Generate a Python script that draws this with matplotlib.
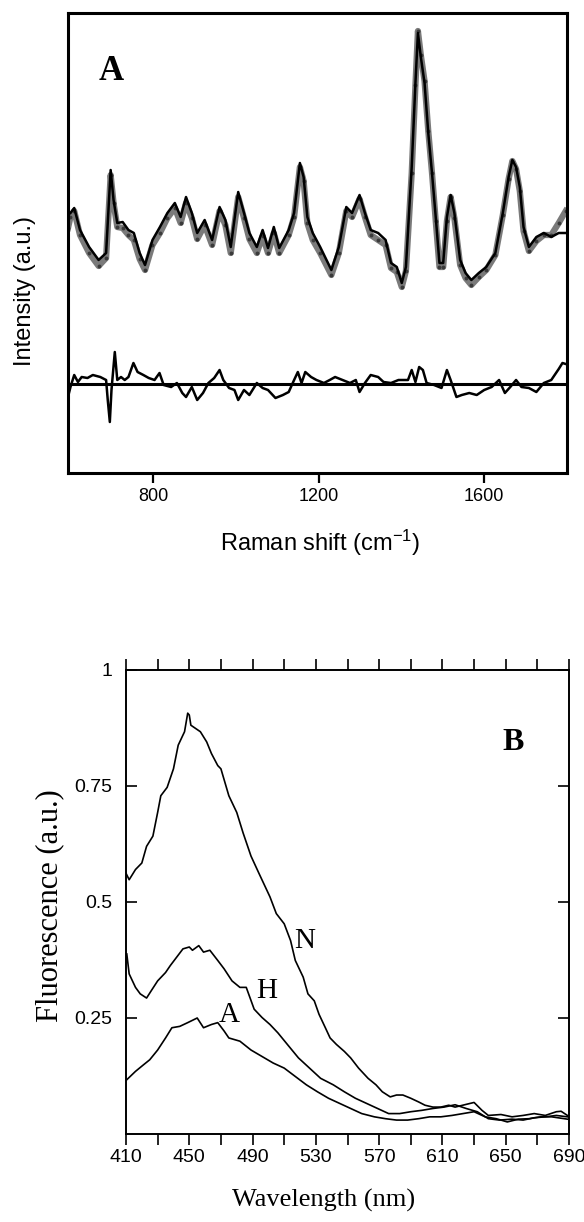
"""
Two-panel figure: Raman spectrum with fit and residual (A),
fluorescence spectra N, H, A (B)
"""

import numpy as np
import matplotlib.pyplot as plt

plt.rcParams['font.family'] = 'Liberation Sans'
plt.rcParams['mathtext.fontset'] = 'custom'
plt.rcParams['mathtext.rm'] = 'Liberation Sans'
plt.rcParams['mathtext.default'] = 'regular'

# ---- Panel A data (Raman shift in cm-1, intensity in a.u.) ----
raman_fit_x = [601, 610, 624, 646, 669, 687, 698, 705, 714, 727, 741, 754, 768, 781, 799,
               817, 835, 853, 867, 880, 894, 907, 925, 943, 961, 975, 988, 1006, 1020, 1033,
               1051, 1065, 1078, 1092, 1105, 1128, 1141, 1155, 1164, 1173, 1186, 1204, 1231,
               1249, 1267, 1281, 1299, 1312, 1326, 1344, 1362, 1375, 1389, 1401, 1411, 1425,
               1434, 1440, 1447, 1456, 1465, 1474, 1483, 1492, 1501, 1510, 1519, 1528, 1542,
               1555, 1569, 1587, 1605, 1627, 1645, 1659, 1668, 1677, 1686, 1695, 1708, 1726,
               1744, 1762, 1780, 1797]
raman_fit_y = [260, 265, 243, 226, 213, 220, 303, 273, 250, 251, 243, 240, 220, 208, 233,
               246, 260, 270, 256, 276, 260, 240, 253, 233, 266, 253, 226, 281, 260, 240,
               226, 243, 225, 246, 225, 243, 260, 310, 296, 256, 240, 226, 203, 226, 266,
               260, 278, 260, 243, 240, 233, 210, 206, 190, 206, 306, 390, 440, 416, 390,
               340, 300, 256, 210, 210, 256, 278, 260, 213, 200, 193, 200, 206, 220, 260,
               296, 313, 306, 286, 246, 226, 236, 240, 236, 240, 240]

raman_meas_x = [595] + raman_fit_x
raman_meas_y = [245, 256, 262, 238, 220, 207, 215, 298, 270, 246, 245, 238, 233, 214, 203,
                228, 240, 255, 265, 250, 270, 255, 234, 248, 228, 262, 248, 220, 276, 255,
                234, 220, 237, 220, 240, 220, 238, 256, 306, 292, 250, 233, 220, 198, 220,
                262, 256, 274, 256, 238, 233, 228, 205, 201, 186, 202, 300, 388, 442, 418,
                392, 342, 300, 252, 206, 206, 252, 276, 255, 208, 195, 188, 196, 203, 218,
                258, 294, 312, 304, 282, 242, 222, 232, 238, 238, 250, 262]

resid_x = [595, 601, 610, 619, 628, 642, 655, 673, 687, 691, 696, 700, 708, 714, 723,
           732, 741, 753, 763, 777, 790, 804, 816, 826, 844, 858, 871, 880, 894, 907,
           921, 934, 948, 961, 970, 984, 997, 1006, 1020, 1033, 1051, 1065, 1078, 1096,
           1114, 1128, 1141, 1150, 1159, 1168, 1182, 1195, 1213, 1227, 1240, 1258, 1276,
           1290, 1299, 1312, 1326, 1344, 1357, 1375, 1393, 1416, 1425, 1434, 1443, 1452,
           1461, 1479, 1497, 1510, 1519, 1533, 1546, 1564, 1582, 1600, 1618, 1636, 1650,
           1663, 1677, 1690, 1708, 1726, 1744, 1762, 1780, 1789, 1797]
resid_y = [76, 86, 98, 91, 96, 95, 98, 96, 93, 73, 51, 83, 121, 93, 96,
           93, 96, 110, 101, 98, 95, 93, 100, 88, 86, 90, 80, 76, 86, 73,
           80, 90, 95, 103, 93, 85, 83, 73, 83, 78, 90, 85, 83, 75,
           78, 81, 93, 101, 90, 101, 96, 93, 90, 93, 96, 93, 90,
           93, 81, 90, 98, 96, 91, 90, 93, 93, 103, 91, 106, 103,
           90, 88, 85, 103, 93, 76, 78, 80, 78, 83, 86, 93, 80,
           86, 93, 86, 85, 81, 90, 93, 104, 110, 109]
resid_zero = 89
raman_ticks = [800, 1200, 1600]

# ---- Panel B data (wavelength in nm, fluorescence in a.u.) ----
n_x = [410, 412, 416, 420, 423, 427, 430, 432, 436, 440, 443, 447, 449, 450, 451, 454,
       457, 461, 464, 468, 470, 475, 480, 484, 489, 494, 501, 505, 510, 514, 517, 522,
       525, 529, 532, 536, 539, 543, 548, 552, 557, 563, 568, 572, 577, 581, 585, 590,
       595, 599, 604, 609, 614, 618, 624, 630, 635, 639, 647, 654, 661, 668, 675, 682,
       685, 689]
n_y = [0.562, 0.548, 0.570, 0.584, 0.620, 0.642, 0.693, 0.729, 0.747, 0.787, 0.838, 0.867,
       0.907, 0.903, 0.881, 0.874, 0.867, 0.845, 0.820, 0.794, 0.787, 0.729, 0.693, 0.649,
       0.599, 0.562, 0.511, 0.475, 0.453, 0.417, 0.374, 0.338, 0.302, 0.287, 0.258, 0.229,
       0.207, 0.193, 0.178, 0.164, 0.142, 0.120, 0.106, 0.091, 0.080, 0.084, 0.084, 0.077,
       0.069, 0.062, 0.058, 0.058, 0.062, 0.058, 0.063, 0.068, 0.051, 0.040, 0.042, 0.037,
       0.040, 0.044, 0.040, 0.048, 0.049, 0.040]

h_x = [410.5, 412, 416, 419, 423, 426, 430, 435, 438, 442, 446, 450, 452, 456, 459, 463,
       468, 472, 477, 482, 486, 491, 496, 501, 506, 512, 519, 526, 533, 541, 548, 555,
       562, 569, 576, 583, 590, 597, 604, 611, 618, 625, 632, 639, 646, 654, 661, 668,
       675, 682, 689]
h_y = [0.388, 0.345, 0.316, 0.302, 0.293, 0.309, 0.330, 0.348, 0.363, 0.381, 0.399, 0.403,
       0.396, 0.406, 0.392, 0.396, 0.374, 0.356, 0.330, 0.316, 0.316, 0.269, 0.251, 0.236,
       0.218, 0.193, 0.164, 0.142, 0.120, 0.106, 0.091, 0.077, 0.066, 0.055, 0.044, 0.044,
       0.048, 0.051, 0.055, 0.058, 0.063, 0.055, 0.048, 0.033, 0.030, 0.032, 0.030, 0.035,
       0.037, 0.040, 0.037]

a_x = [410.5, 416, 421, 425, 430, 435, 439, 444, 449, 455, 459, 464, 468, 472, 475, 482,
       489, 496, 503, 510, 517, 524, 531, 538, 545, 552, 559, 567, 574, 581, 588, 595,
       602, 609, 616, 623, 630, 637, 644, 651, 658, 665, 672, 679, 689]
a_y = [0.117, 0.135, 0.149, 0.160, 0.181, 0.207, 0.229, 0.232, 0.240, 0.250, 0.229, 0.236,
       0.240, 0.222, 0.207, 0.200, 0.181, 0.167, 0.153, 0.142, 0.124, 0.106, 0.091, 0.077,
       0.066, 0.055, 0.044, 0.037, 0.033, 0.030, 0.030, 0.033, 0.037, 0.037, 0.040, 0.044,
       0.048, 0.037, 0.033, 0.026, 0.032, 0.033, 0.037, 0.037, 0.032]

curve_labels = ['N', 'H', 'A']
curve_label_pos = [(523, 0.417), (499, 0.309), (475, 0.257)]
wl_ticks = [410, 450, 490, 530, 570, 610, 650, 690]
wl_minor = list(range(410, 691, 20))
fl_ticks = [0.25, 0.5, 0.75, 1]
fl_ticklabels = ['0.25', '0.5', '0.75', '1']

fig = plt.figure(figsize=(5.84, 12.22), dpi=100)

# ---------------- Panel A ----------------
axA = fig.add_axes([68/584, 749/1222, 499/584, 460/1222])
axA.plot(raman_meas_x, raman_meas_y, '-', color='#7a7a7a', linewidth=4.5,
         marker='o', markersize=2.8, markerfacecolor='#3a3a3a', markeredgecolor='none')
axA.plot(raman_fit_x, raman_fit_y, '-', color='black', linewidth=1.8)
axA.plot(resid_x, resid_y, '-', color='black', linewidth=1.8)
axA.axhline(resid_zero, color='black', linewidth=2.2)
axA.set_xlim(595, 1800)
axA.set_ylim(0, 460)
axA.set_xticks(raman_ticks)
axA.set_yticks([])
axA.tick_params(axis='x', direction='out', length=7, width=1.6, labelsize=13, pad=4)
for sp in axA.spines.values():
    sp.set_linewidth(2.2)
fig.text(111/584, 1 - 72/1222, 'A', fontsize=25, fontweight='bold', family='Liberation Serif',
         ha='center', va='center')
fig.text(320/584, 1 - 543/1222, 'Raman shift (cm$^{-1}$)', fontsize=17,
         ha='center', va='center')
fig.text(25/584, 1 - 291/1222, 'Intensity (a.u.)', fontsize=17, rotation=90,
         ha='center', va='center')

# ---------------- Panel B ----------------
axB = fig.add_axes([126/584, 88/1222, 443/584, 464/1222])
for xs, ys in [(n_x, n_y), (h_x, h_y), (a_x, a_y)]:
    axB.plot(xs, ys, '-', color='black', linewidth=1.2)
for lab, (lx, ly) in zip(curve_labels, curve_label_pos):
    axB.text(lx, ly, lab, fontsize=21, family='Liberation Serif', ha='center', va='center')
fig.text(513/584, 1 - 742/1222, 'B', fontsize=23, fontweight='bold', family='Liberation Serif',
         ha='center', va='center')
axB.set_xlim(410, 690)
axB.set_ylim(0, 1)
axB.set_xticks(wl_minor, minor=True)
axB.set_xticks(wl_ticks)
axB.set_xticklabels([str(t) for t in wl_ticks])
axB.set_yticks(fl_ticks)
axB.set_yticklabels(fl_ticklabels)
for lbl in axB.get_xticklabels() + axB.get_yticklabels():
    lbl.set_fontsize(14)
axB.tick_params(axis='x', which='both', direction='out', top=True, length=8, width=1.2, pad=3)
axB.tick_params(axis='y', direction='in', right=True, length=8, width=1.2, pad=10)
for sp in axB.spines.values():
    sp.set_linewidth(1.4)
fig.text(324/584, 1 - 1200/1222, 'Wavelength (nm)', fontsize=19, family='Liberation Serif',
         ha='center', va='center')
fig.text(50/584, 1 - 906/1222, 'Fluorescence (a.u.)', fontsize=22, family='Liberation Serif',
         rotation=90, ha='center', va='center')

fig.savefig('out.png', dpi=100)
plt.close(fig)
